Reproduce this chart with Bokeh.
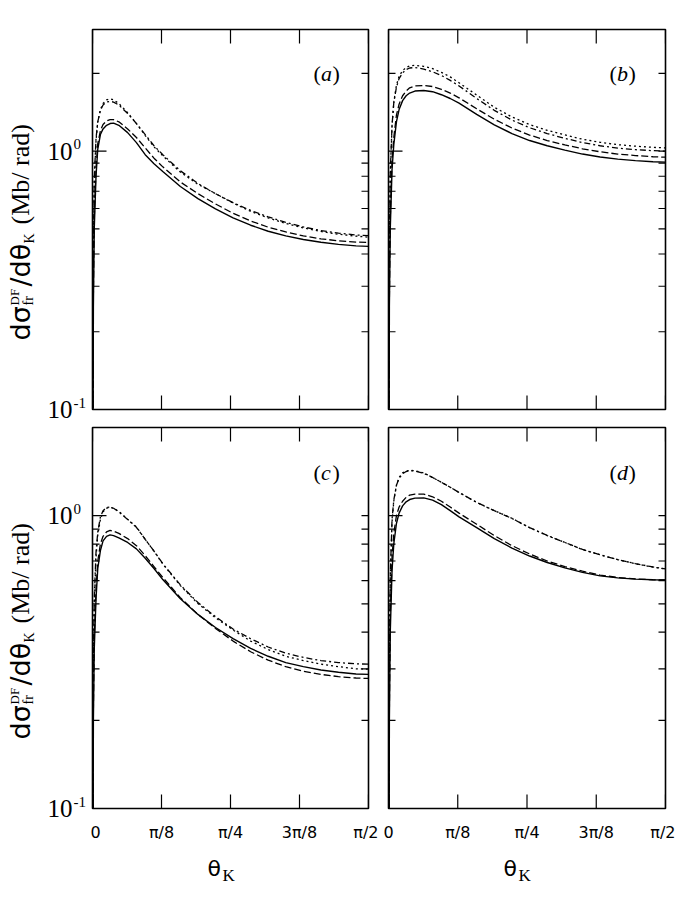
import math
from bokeh.plotting import figure
from bokeh.models import Range1d, FixedTicker, Label
from bokeh.layouts import column, row
from bokeh.embed import file_html
from bokeh.resources import INLINE

# ---------------- data ----------------
theta = [0.0, 0.005, 0.01, 0.02, 0.03, 0.045, 0.06, 0.08, 0.1, 0.12, 0.15, 0.2, 0.25,
         0.3, 0.35, 0.4, 0.5, 0.6, 0.7, 0.8, 0.9, 1.0, 1.1, 1.2, 1.3, 1.4, 1.5, 1.5708]

a_solid = [0.01, 0.25, 0.5, 0.8, 1.02, 1.16, 1.22, 1.26, 1.28, 1.285, 1.26, 1.18, 1.08,
           0.97, 0.895, 0.835, 0.73, 0.655, 0.598, 0.552, 0.517, 0.49, 0.47, 0.455, 0.444, 0.436, 0.43, 0.428]
a_dashed = [0.01, 0.28, 0.55, 0.86, 1.07, 1.2, 1.27, 1.31, 1.325, 1.325, 1.3, 1.22, 1.13,
            1.03, 0.94, 0.87, 0.76, 0.685, 0.625, 0.575, 0.537, 0.508, 0.487, 0.47, 0.458, 0.45, 0.445, 0.443]
a_dotted = [0.01, 0.4, 0.75, 1.1, 1.3, 1.45, 1.53, 1.58, 1.595, 1.58, 1.53, 1.41, 1.28,
            1.15, 1.04, 0.96, 0.83, 0.745, 0.685, 0.63, 0.585, 0.552, 0.525, 0.505, 0.489, 0.477, 0.469, 0.465]
a_dashdot = [0.01, 0.42, 0.78, 1.12, 1.3, 1.44, 1.51, 1.55, 1.56, 1.55, 1.51, 1.4, 1.28,
             1.16, 1.05, 0.97, 0.84, 0.75, 0.685, 0.632, 0.59, 0.557, 0.53, 0.509, 0.493, 0.482, 0.474, 0.471]

b_solid = [0.01, 0.25, 0.5, 0.85, 1.06, 1.3, 1.45, 1.57, 1.64, 1.68, 1.71, 1.718, 1.7,
           1.655, 1.6, 1.535, 1.39, 1.265, 1.17, 1.1, 1.05, 1.01, 0.975, 0.95, 0.932, 0.92, 0.911, 0.907]
b_dashed = [0.01, 0.27, 0.55, 0.92, 1.13, 1.38, 1.52, 1.64, 1.71, 1.76, 1.79, 1.797, 1.78,
            1.735, 1.68, 1.61, 1.46, 1.33, 1.23, 1.155, 1.1, 1.058, 1.022, 0.995, 0.975, 0.962, 0.952, 0.948]
b_dotted = [0.01, 0.4, 0.8, 1.25, 1.55, 1.8, 1.95, 2.05, 2.11, 2.14, 2.15, 2.13, 2.09,
            2.02, 1.94, 1.84, 1.65, 1.48, 1.357, 1.268, 1.205, 1.156, 1.113, 1.083, 1.06, 1.046, 1.035, 1.03]
b_dashdot = [0.01, 0.42, 0.82, 1.26, 1.54, 1.77, 1.91, 2.01, 2.07, 2.1, 2.11, 2.08, 2.03,
             1.965, 1.88, 1.79, 1.6, 1.44, 1.32, 1.233, 1.17, 1.122, 1.08, 1.05, 1.028, 1.014, 1.005, 1.0]

c_solid = [0.01, 0.2, 0.35, 0.52, 0.66, 0.76, 0.82, 0.85, 0.86, 0.855, 0.84, 0.81, 0.77,
           0.715, 0.66, 0.605, 0.52, 0.46, 0.415, 0.38, 0.352, 0.331, 0.315, 0.305, 0.297, 0.292, 0.288, 0.287]
c_dashed = [0.01, 0.22, 0.38, 0.56, 0.7, 0.8, 0.85, 0.88, 0.89, 0.885, 0.87, 0.835, 0.79,
            0.73, 0.67, 0.615, 0.525, 0.46, 0.412, 0.373, 0.343, 0.321, 0.305, 0.294, 0.287, 0.282, 0.279, 0.278]
c_dotted = [0.01, 0.3, 0.5, 0.72, 0.86, 0.97, 1.03, 1.06, 1.068, 1.06, 1.035, 0.972, 0.915,
            0.83, 0.756, 0.684, 0.577, 0.501, 0.448, 0.407, 0.373, 0.349, 0.331, 0.32, 0.311, 0.305, 0.3, 0.299]
c_dashdot = [0.01, 0.32, 0.52, 0.75, 0.88, 0.99, 1.04, 1.066, 1.07, 1.06, 1.03, 0.97, 0.912,
             0.83, 0.757, 0.686, 0.58, 0.505, 0.452, 0.41, 0.38, 0.356, 0.339, 0.328, 0.32, 0.315, 0.312, 0.311]

d_solid = [0.01, 0.2, 0.4, 0.65, 0.8, 0.94, 1.02, 1.08, 1.115, 1.135, 1.148, 1.15, 1.13,
           1.09, 1.04, 0.99, 0.91, 0.835, 0.775, 0.728, 0.692, 0.663, 0.64, 0.623, 0.613, 0.607, 0.604, 0.603]
d_dashed = [0.01, 0.22, 0.45, 0.72, 0.87, 1.0, 1.07, 1.12, 1.155, 1.175, 1.185, 1.185, 1.16,
            1.12, 1.07, 1.02, 0.935, 0.855, 0.79, 0.74, 0.7, 0.67, 0.646, 0.627, 0.615, 0.608, 0.604, 0.603]
d_dotted = [0.01, 0.3, 0.6, 0.95, 1.12, 1.27, 1.35, 1.4, 1.42, 1.428, 1.425, 1.4, 1.35,
            1.3, 1.25, 1.2, 1.11, 1.04, 0.98, 0.91, 0.855, 0.81, 0.766, 0.735, 0.708, 0.685, 0.667, 0.657]
d_dashdot = [0.01, 0.32, 0.62, 0.97, 1.13, 1.27, 1.34, 1.39, 1.415, 1.425, 1.42, 1.395, 1.35,
             1.3, 1.25, 1.2, 1.11, 1.04, 0.978, 0.91, 0.856, 0.81, 0.767, 0.735, 0.708, 0.686, 0.668, 0.658]

x_ticks = [0.0, math.pi / 8, math.pi / 4, 3 * math.pi / 8, math.pi / 2]
x_tick_labels = ["0", "π/8", "π/4", "3π/8", "π/2"]
y_major = [0.1, 1.0]
y_major_labels = [("10", "-1"), ("10", "0")]
y_minor = [0.2, 0.3, 0.4, 0.5, 0.6, 0.7, 0.8, 0.9, 2.0, 3.0]

panel_letters = ["a", "b", "c", "d"]
y_tops = [2.96, 2.96, 2.0, 2.0]

SERIF = "Liberation Serif"
SANS = "DejaVu Sans"

# frame geometry (pixels)
TOP_ROW = dict(top=29, frame=380, bottom=9)
BOT_ROW = dict(top=9, frame=381, bottom=36)
# text columns left of the panels (same frame position, different split of the spare space)
TOP_TEXT = dict(top=29, frame=380, bottom=17)
BOT_TEXT = dict(top=1, frame=381, bottom=36)


def add_label(p, text, x, y, dx, dy, size, font, style="normal", angle=0.0,
              align="left", baseline="alphabetic"):
    p.add_layout(Label(x=x, y=y, x_units="data", y_units="data",
                       x_offset=dx, y_offset=dy, text=text, text_font=font,
                       text_font_size=f"{size}px", text_font_style=style,
                       angle=angle, text_align=align, text_baseline=baseline,
                       text_color="black"))


def blank_fig(width, height, x_range, y_range, log=False):
    p = figure(width=width, height=height, x_range=x_range, y_range=y_range,
               y_axis_type="log" if log else "linear",
               output_backend="svg", toolbar_location=None,
               min_border_left=0, min_border_right=0, min_border_top=0, min_border_bottom=0)
    p.outline_line_color = None
    p.background_fill_color = "white"
    p.border_fill_color = "white"
    p.xaxis.visible = False
    p.yaxis.visible = False
    p.xgrid.visible = False
    p.ygrid.visible = False
    return p


def tick_rays(p, xs, ys, length, angle):
    p.ray(x=xs, y=ys, length=length, angle=angle, length_units="screen",
          line_color="black", line_width=1.2)


def make_panel(curves, letter, ytop, left_col, geom, bottom_row):
    lb = 2 if left_col else 10
    width = lb + (276 if left_col else 277) + 10
    height = geom["top"] + geom["frame"] + geom["bottom"]
    p = figure(width=width, height=height,
               x_range=Range1d(0, math.pi / 2), y_range=Range1d(0.1, ytop),
               y_axis_type="log", output_backend="svg", toolbar_location=None,
               min_border_left=lb, min_border_right=10,
               min_border_top=geom["top"], min_border_bottom=geom["bottom"])
    p.background_fill_color = "white"
    p.border_fill_color = "white"
    p.outline_line_color = "black"
    p.outline_line_width = 1.6
    p.xgrid.visible = False
    p.ygrid.visible = False
    p.yaxis.visible = False

    xa = p.xaxis[0]
    if bottom_row:
        xa.ticker = FixedTicker(ticks=x_ticks, minor_ticks=[])
        xa.major_label_overrides = {t: s for t, s in zip(x_ticks, x_tick_labels)}
        xa.major_tick_in = 0
        xa.major_tick_out = 0
        xa.axis_line_color = None
        xa.major_label_text_font = SANS
        xa.major_label_text_font_size = "16px"
        xa.major_label_standoff = 14
        xa.major_label_text_color = "black"
    else:
        xa.visible = False

    # tick marks, all pointing into the frame
    tick_rays(p, x_ticks, [0.1] * len(x_ticks), 14, math.pi / 2)
    tick_rays(p, x_ticks, [ytop] * len(x_ticks), 14, -math.pi / 2)
    tick_rays(p, [0.0] * len(y_major), y_major, 14, 0.0)
    tick_rays(p, [0.0] * len(y_minor), y_minor, 7, 0.0)
    tick_rays(p, [math.pi / 2] * len(y_major), y_major, 7, math.pi)
    tick_rays(p, [math.pi / 2] * len(y_minor), y_minor, 7, math.pi)

    solid, dashed, dotted, dashdot = curves
    p.line(theta, solid, line_color="black", line_width=1.4)
    p.line(theta, dashed, line_color="black", line_width=1.3, line_dash="7 3")
    p.line(theta, dotted, line_color="black", line_width=1.3, line_dash="2 3")
    p.line(theta, dashdot, line_color="black", line_width=1.3, line_dash="6 3 2 3")

    # panel letter "(x)"
    add_label(p, "(", 0.0, 0.1, 221, 336, 22, SERIF, baseline="middle")
    add_label(p, letter, 0.0, 0.1, 228.5, 336, 22, SERIF, style="italic", baseline="middle")
    add_label(p, ")", 0.0, 0.1, 240, 336, 22, SERIF, baseline="middle")
    return p


def ylabel_fig(ytop, geom):
    # text column left of a panel; log y range extended so that data y matches the panel frame
    width = 90
    height = geom["top"] + geom["frame"] + geom["bottom"]
    lo, hi = math.log10(0.1), math.log10(ytop)
    per_px = (hi - lo) / geom["frame"]
    yr = Range1d(10 ** (lo - geom["bottom"] * per_px), 10 ** (hi + geom["top"] * per_px))
    p = blank_fig(width, height, Range1d(0, width), yr, log=True)
    for yv, (base, exp) in zip(y_major, y_major_labels):
        add_label(p, base, 72, yv, 0, 0, 25, SERIF, align="right", baseline="middle")
        add_label(p, exp, 73, yv, 0, 7, 15, SERIF, align="left", baseline="middle")
    ang = math.pi / 2
    # pieces of d(sigma)^DF_fr / d(theta)_K  (Mb/ rad), written bottom to top
    add_label(p, "dσ", 20, 0.1, 0, 69, 27, SANS, angle=ang)
    add_label(p, "DF", 14, 0.1, 0, 104, 13, SERIF, angle=ang)
    add_label(p, "fr", 28, 0.1, 0, 104, 14, SERIF, angle=ang)
    add_label(p, "/dθ", 20, 0.1, 0, 123, 27, SANS, angle=ang)
    add_label(p, "K", 29, 0.1, 0, 166, 14, SERIF, angle=ang)
    add_label(p, "(Mb/ rad)", 20, 0.1, 0, 185, 26, SERIF, angle=ang)
    return p


def xlabel_fig():
    width, height = 585, 40
    p = blank_fig(width, height, Range1d(90, 90 + width), Range1d(0, height))
    for x0 in (207, 503):
        add_label(p, "θ", x0, 16, 0, 0, 22, SANS)
        add_label(p, "K", x0 + 15, 9, 0, 0, 17, SERIF)
    return p


pa = make_panel((a_solid, a_dashed, a_dotted, a_dashdot), panel_letters[0], y_tops[0], True, TOP_ROW, False)
pb = make_panel((b_solid, b_dashed, b_dotted, b_dashdot), panel_letters[1], y_tops[1], False, TOP_ROW, False)
pc = make_panel((c_solid, c_dashed, c_dotted, c_dashdot), panel_letters[2], y_tops[2], True, BOT_ROW, True)
pd = make_panel((d_solid, d_dashed, d_dotted, d_dashdot), panel_letters[3], y_tops[3], False, BOT_ROW, True)

ya = ylabel_fig(y_tops[0], TOP_TEXT)
yc = ylabel_fig(y_tops[2], BOT_TEXT)
xl = xlabel_fig()

layout = row(column(ya, yc), column(row(pa, pb), row(pc, pd), xl))
open("out.html", "w").write(file_html(layout, INLINE))
